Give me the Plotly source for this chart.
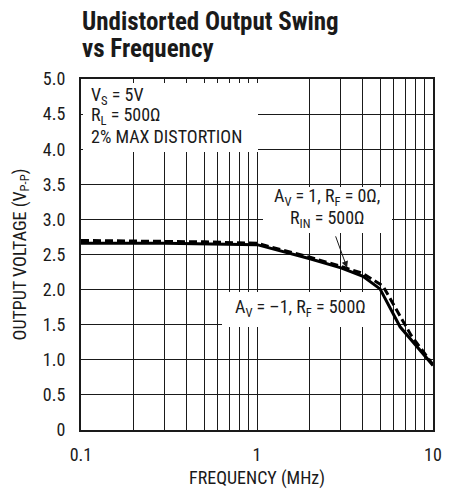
import math
import plotly.graph_objects as go

# ---- data ----
freq_inv = [0.1, 0.3, 1.0, 2.0, 3.0, 4.0, 5.0, 6.5, 10.0]          # A_V = -1
vout_inv = [2.66, 2.66, 2.64, 2.44, 2.31, 2.19, 2.01, 1.47, 0.92]
freq_noninv = [0.1, 0.5, 1.0, 2.0, 3.0, 4.0, 5.2, 7.5, 10.0]       # A_V = 1
vout_noninv = [2.70, 2.68, 2.66, 2.46, 2.33, 2.23, 2.05, 1.35, 0.93]

x_grid = [0.1, 0.2, 0.3, 0.4, 0.5, 0.6, 0.7, 0.8, 0.9,
          1, 2, 3, 4, 5, 6, 7, 8, 9, 10]
x_text = ["0.1"] + [""] * 8 + ["1"] + [""] * 8 + ["10"]
y_ticks = [0, 0.5, 1.0, 1.5, 2.0, 2.5, 3.0, 3.5, 4.0, 4.5, 5.0]
y_text = ["0", "0.5", "1.0", "1.5", "2.0", "2.5", "3.0", "3.5", "4.0", "4.5", "5.0"]

FONT = "Liberation Sans Narrow, Roboto Condensed, Arial Narrow, DejaVu Sans Condensed, sans-serif"
INK = "#1a1a1a"

# page has an 8px body margin: figure is drawn from (8, 8)
OFF = 8
W, H = 460 - OFF, 491 - OFF
# plot area in final picture pixels
L, R, T, B = 81, 433, 79, 430

def px(x):
    return (x - L) / (R - L)
def py(y):
    return (B - y) / (B - T)

fig = go.Figure()
fig.add_trace(go.Scatter(x=freq_inv, y=vout_inv, mode="lines",
                         line=dict(color="black", width=3), showlegend=False))
fig.add_trace(go.Scatter(x=freq_noninv, y=vout_noninv, mode="lines",
                         line=dict(color="black", width=3, dash="8px,4px"), showlegend=False))

# white boxes behind the labels (hide grid lines)
masks = [(83, 258, 83, 152), (263, 392, 187, 233), (222, 380, 292, 327)]
for x0, x1, y0, y1 in masks:
    fig.add_shape(type="rect", xref="paper", yref="paper",
                  x0=px(x0), x1=px(x1), y0=py(y1), y1=py(y0),
                  fillcolor="white", line=dict(width=0), layer="above")

ann_font = dict(family=FONT, size=18, color=INK)
def label(text, x, y, xanchor="center"):
    fig.add_annotation(xref="paper", yref="paper", x=px(x), y=py(y),
                       xanchor=xanchor, yanchor="middle", showarrow=False,
                       text=text, font=ann_font)

label("V<sub>S</sub> = 5V", 89, 96, "left")
label("R<sub>L</sub> = 500Ω", 89, 116, "left")
label("2% MAX DISTORTION", 89, 136, "left")
label("A<sub>V</sub> = 1, R<sub>F</sub> = 0Ω,", 327, 197)
label("R<sub>IN</sub> = 500Ω", 327, 219)
label("A<sub>V</sub> = –1, R<sub>F</sub> = 500Ω", 300, 308)

fig.add_annotation(xref="x", yref="y", x=math.log10(3.25), y=2.31, text="",
                   showarrow=True, ax=-12, ay=-33, arrowhead=2, arrowsize=1.3,
                   arrowwidth=1, arrowcolor=INK)

# title
title_font = dict(family=FONT, size=25, color=INK)
fig.add_annotation(xref="paper", yref="paper", x=px(80), y=py(21), xanchor="left",
                   yanchor="middle", showarrow=False,
                   text="<b>Undistorted Output Swing</b>", font=title_font)
fig.add_annotation(xref="paper", yref="paper", x=px(80), y=py(48), xanchor="left",
                   yanchor="middle", showarrow=False,
                   text="<b>vs Frequency</b>", font=title_font)

axis_common = dict(showline=True, linecolor=INK, linewidth=2, mirror=True,
                   showgrid=True, gridcolor=INK, gridwidth=1, zeroline=False,
                   automargin=False,
                   tickfont=dict(family=FONT, size=18, color=INK), ticks="")

fig.update_xaxes(type="log", range=[-1, 1], tickvals=x_grid, ticktext=x_text,
                 title=dict(text="FREQUENCY (MHz)", font=dict(family=FONT, size=18, color=INK), standoff=8),
                 ticklabelstandoff=7, **axis_common)
fig.update_yaxes(range=[0, 5], tickvals=y_ticks, ticktext=y_text,
                 title=dict(text="OUTPUT VOLTAGE (V<sub>P-P</sub>)", font=dict(family=FONT, size=18, color=INK), standoff=12),
                 ticklabelstandoff=10, **axis_common)

fig.update_layout(
    width=W, height=H,
    margin=dict(l=L - OFF, r=W - (R - OFF), t=T - OFF, b=H - (B - OFF)),
    paper_bgcolor="white", plot_bgcolor="white",
    showlegend=False,
)

fig.write_html("out.html")
